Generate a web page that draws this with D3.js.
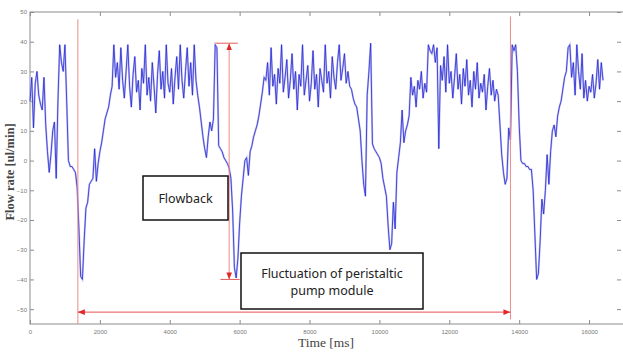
<!DOCTYPE html>
<html>
<head>
<meta charset="utf-8">
<script src="https://cdn.jsdelivr.net/npm/d3@7"></script>
<style>
  body { margin: 0; background: #fff; }
  svg { display: block; }
</style>
</head>
<body>
<div id="chart"></div>
<script>
// sampled flow rate, one value every sampleMs starting at t = 0
var sampleMs = 50;
var flow = [
  20, 28, 11, 26, 30, 22, 19, 17, 28, 12,
  3, -4, 2, 10, 13, -6, 20, 39, 33, 30,
  39, 20, 0, -2, -2, -3, -4, -9, -23, -39,
  -40, -27, -16, -14, -8, -7, -6, 4, -7, -1,
  3, 6, 10, 14, 16, 18, 22, 25, 39, 28,
  33, 24, 38, 27, 21, 30, 39, 25, 18, 29,
  35, 23, 27, 17, 31, 26, 39, 22, 28, 20,
  33, 25, 16, 29, 37, 24, 30, 21, 39, 26,
  23, 31, 19, 28, 35, 24, 39, 27, 21, 30,
  38, 25, 33, 22, 39, 27,
  22, 18, 13, 8, 4, 1,
  8, 13, 10, 14,
  39, 38,
  5, 4, 3, 1, 0, -1, -2.5,
  -6, -17,
  -36, -39.5,
  -33, -21, -12, -6,
  0, 1, -5,
  3, 5, 8, 10, 12, 15,
  19, 23, 28,
  27, 33, 22, 38, 25, 29, 19, 31, 26, 39,
  23, 28, 34, 21, 27, 36, 24, 30, 17, 29,
  25, 39, 22, 27, 32, 20, 26, 37, 24, 29,
  18, 31, 27, 23, 39, 26, 30, 21, 35, 28,
  24, 33, 39, 27, 31, 36, 26, 30,
  25, 24, 21, 19, 18, 14,
  10, 0, -8, -12,
  22, 30, 39.5,
  5.6,
  4, 3, 2, 1, -1,
  -6, -9, -12,
  -22, -30, -28,
  -14, -23,
  -4, 1, 6,
  17,
  6, 10, 12, 15, 28,
  22, 25, 18, 27, 24, 30, 21, 26, 23, 39,
  37, 36, 39, 33, 38, 4, 32,
  27, 35, 23, 39, 26, 30, 21, 28, 36, 24,
  29, 19, 31, 25, 34, 22, 27, 18, 30, 24,
  33, 21, 26, 23, 29, 17, 25, 31, 22, 27,
  20, 24,
  22, 12,
  2, -4, -8,
  -6, 11, 7,
  39, 37, 39, 30, 12,
  0, -1,
  -1, -2, -2, -3, -3,
  -10, -25, -40,
  -38,
  -27, -13, -18, -10, 2, -8, 3, 10,
  12, 8, 15, 18, 20, 24, 28, 30, 38,
  39, 28, 33, 22, 39, 30, 24, 36, 21, 27,
  20, 25, 23, 29, 21, 26, 34, 24, 33, 27
];
var xTicks = [0, 2000, 4000, 6000, 8000, 10000, 12000, 14000, 16000];
var yTicks = [-50, -40, -30, -20, -10, 0, 10, 20, 30, 40, 50];

// annotation positions in data units
var markStart = 1370, markEnd = 13750;   // red vertical lines / period arrow
var arrowY = -51;
var flowbackT = 5700, flowbackTop = 39.5, flowbackBottom = -40;

var width = 623, height = 352;
var svg = d3.select("#chart").append("svg")
    .attr("width", width)
    .attr("height", height);

var x = d3.scaleLinear().domain([0, 17000]).range([30, 624]);
var y = d3.scaleLinear().domain([-55, 50]).range([324, 12]);

var axisColor = "#8c8c8c";

// frame
svg.append("rect")
   .attr("x", x(0)).attr("y", y(50))
   .attr("width", x(17000) - x(0)).attr("height", y(-55) - y(50))
   .style("fill", "none").style("stroke", axisColor).style("stroke-width", 1);

var tickFont = "Liberation Sans Narrow, Liberation Sans, sans-serif";

// ticks inward on all sides, MATLAB style
svg.append("g")
   .attr("transform", "translate(0," + y(-55) + ")")
   .call(d3.axisBottom(x).tickValues(xTicks).tickFormat(d3.format("d"))
           .tickSizeInner(-4).tickSizeOuter(0).tickPadding(6))
   .call(function (g) {
       g.select(".domain").remove();
       g.selectAll("line").style("stroke", axisColor);
       g.selectAll("text").style("fill", "#777").style("font-size", "6px").style("font-family", tickFont);
   });

svg.append("g")
   .attr("transform", "translate(0," + y(50) + ")")
   .call(d3.axisTop(x).tickValues(xTicks).tickSizeInner(-4).tickSizeOuter(0).tickFormat(""))
   .call(function (g) {
       g.select(".domain").remove();
       g.selectAll("line").style("stroke", axisColor);
   });

svg.append("g")
   .attr("transform", "translate(" + x(0) + ",0)")
   .call(d3.axisLeft(y).tickValues(yTicks).tickFormat(d3.format("d"))
           .tickSizeInner(-4).tickSizeOuter(0).tickPadding(3))
   .call(function (g) {
       g.select(".domain").remove();
       g.selectAll("line").style("stroke", axisColor);
       g.selectAll("text").style("fill", "#777").style("font-size", "6px").style("font-family", tickFont);
   });

svg.append("g")
   .attr("transform", "translate(" + (x(17000) - 3) + ",0)")
   .call(d3.axisRight(y).tickValues(yTicks).tickSizeInner(-4).tickSizeOuter(0).tickFormat(""))
   .call(function (g) {
       g.select(".domain").remove();
       g.selectAll("line").style("stroke", axisColor);
   });

// axis titles
svg.append("text")
   .attr("transform", "translate(14," + 172 + ") rotate(-90)")
   .style("text-anchor", "middle")
   .style("font-family", "Liberation Serif, serif")
   .style("font-weight", "bold")
   .style("font-size", "12.5px")
   .style("fill", "#444")
   .text("Flow rate [ul/min]");

svg.append("text")
   .attr("x", 326).attr("y", 347)
   .style("text-anchor", "middle")
   .style("font-family", "Liberation Serif, serif")
   .style("font-size", "13.5px")
   .style("fill", "#444")
   .text("Time [ms]");

// signal
var line = d3.line()
    .x(function (d, i) { return x(i * sampleMs); })
    .y(function (d) { return y(d); });

svg.append("path")
   .datum(flow)
   .attr("d", line)
   .style("fill", "none")
   .style("stroke", "#b4b6ea")
   .style("stroke-width", 2)
   .style("opacity", 0.8);

svg.append("path")
   .datum(flow)
   .attr("d", line)
   .style("fill", "none")
   .style("stroke", "#2626d8")
   .style("stroke-width", 0.8)
   .style("stroke-linejoin", "round");

// red markers
var defs = svg.append("defs");
defs.append("marker")
    .attr("id", "arr")
    .attr("viewBox", "0 0 10 10")
    .attr("refX", 10).attr("refY", 5)
    .attr("markerWidth", 7).attr("markerHeight", 7)
    .attr("markerUnits", "userSpaceOnUse")
    .attr("orient", "auto-start-reverse")
    .append("path")
    .attr("d", "M0,1 L10,5 L0,9 Z")
    .style("fill", "#e02828");

svg.selectAll("line.mark")
   .data([markStart, markEnd])
   .enter()
   .append("line")
   .attr("class", "mark")
   .attr("x1", function (d) { return x(d); })
   .attr("x2", function (d) { return x(d); })
   .attr("y1", function (d, i) { return i == 0 ? y(47.5) : y(48.5); })
   .attr("y2", function (d, i) { return i == 0 ? y(-55) : y(-53.5); })
   .style("stroke", "#ec8a8a")
   .style("stroke-width", 1);

svg.append("line")
   .attr("x1", x(markStart)).attr("x2", x(markEnd))
   .attr("y1", y(arrowY)).attr("y2", y(arrowY))
   .attr("marker-start", "url(#arr)")
   .attr("marker-end", "url(#arr)")
   .style("stroke", "#e85050")
   .style("stroke-width", 1);

// flowback span
svg.append("line")
   .attr("x1", x(flowbackT)).attr("x2", x(flowbackT))
   .attr("y1", y(flowbackTop)).attr("y2", y(flowbackBottom))
   .attr("marker-start", "url(#arr)")
   .attr("marker-end", "url(#arr)")
   .style("stroke", "#ec8a8a")
   .style("stroke-width", 1);

svg.selectAll("line.cap")
   .data([[5300, 5950, flowbackTop], [5450, 6000, flowbackBottom]])
   .enter()
   .append("line")
   .attr("class", "cap")
   .attr("x1", function (d) { return x(d[0]); })
   .attr("x2", function (d) { return x(d[1]); })
   .attr("y1", function (d) { return y(d[2]); })
   .attr("y2", function (d) { return y(d[2]); })
   .style("stroke", "#e85a5a")
   .style("stroke-width", 1);

// text boxes
var boxFont = "Noto Sans, Open Sans, sans-serif";

svg.append("rect")
   .attr("x", 143).attr("y", 176).attr("width", 85).attr("height", 44)
   .style("fill", "#fff").style("stroke", "#111").style("stroke-width", 1.5);
svg.append("text")
   .attr("x", 185.5).attr("y", 203)
   .style("text-anchor", "middle")
   .style("font-family", boxFont)
   .style("font-size", "12.5px")
   .style("fill", "#222")
   .text("Flowback");

svg.append("rect")
   .attr("x", 241).attr("y", 253).attr("width", 182).attr("height", 56)
   .style("fill", "#fff").style("stroke", "#111").style("stroke-width", 1.5);
svg.append("text")
   .attr("x", 332).attr("y", 278)
   .style("text-anchor", "middle")
   .style("font-family", boxFont)
   .style("font-size", "12.5px")
   .style("fill", "#222")
   .text("Fluctuation of peristaltic");
svg.append("text")
   .attr("x", 332).attr("y", 295)
   .style("text-anchor", "middle")
   .style("font-family", boxFont)
   .style("font-size", "12.5px")
   .style("fill", "#222")
   .text("pump module");
</script>
</body>
</html>
